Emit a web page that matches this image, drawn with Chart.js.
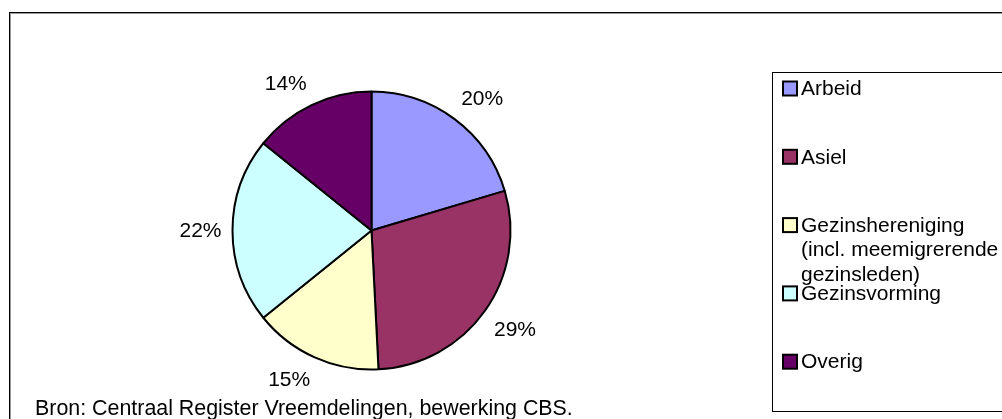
<!DOCTYPE html>
<html>
<head>
<meta charset="utf-8">
<script src="https://cdn.jsdelivr.net/npm/chart.js@4.4.1/dist/chart.umd.min.js"></script>
<style>
  body { margin: 0; background: #fff; }
  #wrap { width: 1002px; height: 419px; position: relative; }
</style>
</head>
<body>
<div id="wrap"><canvas id="chart"></canvas></div>
<script>
// shares per migration motive (percent)
const categories = ['Arbeid', 'Asiel', ['Gezinshereniging', '(incl. meemigrerende', 'gezinsleden)'], 'Gezinsvorming', 'Overig'];
const shares = [20.4, 28.8, 15.0, 21.6, 14.2];
const sliceColors = ['#9999FF', '#993366', '#FFFFCC', '#CCFFFF', '#660066'];
const sourceNote = 'Bron: Centraal Register Vreemdelingen, bewerking CBS.';

const FONT = '21px "Liberation Sans", Arial, sans-serif';

// frame, legend box, percentage labels and source line
const decorations = {
    id: 'decorations',
    beforeDraw(chart) {
        const ctx = chart.ctx;
        ctx.save();
        ctx.fillStyle = '#fff';
        ctx.fillRect(0, 0, chart.width, chart.height);
        ctx.strokeStyle = '#000';
        ctx.lineWidth = 1;
        ctx.strokeRect(9.5, 12.5, 1200, 600);
        ctx.strokeStyle = '#999';
        ctx.strokeRect(10.5, 13.5, 1200, 600);
        ctx.restore();
    },
    afterDraw(chart) {
        const ctx = chart.ctx;
        const meta = chart.getDatasetMeta(0);
        const total = shares.reduce((a, b) => a + b, 0);
        ctx.save();
        ctx.font = FONT;
        ctx.fillStyle = '#000';

        // percentage labels just outside each slice, box pushed away from the pie
        ctx.textAlign = 'center';
        ctx.textBaseline = 'middle';
        meta.data.forEach((arc, i) => {
            const text = Math.round(shares[i] / total * 100) + '%';
            const halfW = ctx.measureText(text).width / 2;
            const mid = (arc.startAngle + arc.endAngle) / 2;
            const dx = Math.cos(mid), dy = Math.sin(mid);
            const dist = arc.outerRadius + 11;
            const sx = Math.abs(dx) < 0.01 ? 0 : Math.sign(dx);
            const sy = Math.abs(dy) < 0.01 ? 0 : Math.sign(dy);
            const x = arc.x + dx * dist + sx * halfW;
            const y = arc.y + dy * dist + sy * 12;
            ctx.fillText(text, x, y + 1);
        });

        // legend box
        ctx.strokeStyle = '#000';
        ctx.lineWidth = 1;
        ctx.strokeRect(772.5, 72.5, 400, 339);
        ctx.textAlign = 'left';
        categories.forEach((label, i) => {
            const lines = Array.isArray(label) ? label : [label];
            const cy = 88.5 + i * 68.3;
            ctx.fillStyle = sliceColors[i];
            ctx.fillRect(783, cy - 7, 14, 14);
            ctx.lineWidth = 2;
            ctx.strokeStyle = '#000';
            ctx.strokeRect(783, cy - 7, 14, 14);
            ctx.fillStyle = '#000';
            lines.forEach((line, j) => {
                ctx.fillText(line, 801, cy + 1 + j * 24.5);
            });
        });

        // source
        ctx.font = '21.4px "Liberation Sans", Arial, sans-serif';
        ctx.textBaseline = 'alphabetic';
        ctx.fillText(sourceNote, 35, 415);
        ctx.restore();
    }
};

new Chart(document.getElementById('chart'), {
    type: 'pie',
    data: {
        labels: categories,
        datasets: [{
            data: shares,
            backgroundColor: sliceColors,
            borderColor: '#000',
            borderWidth: 2,
            radius: 139,
        }],
    },
    options: {
        responsive: true,
        maintainAspectRatio: false,
        animation: false,
        layout: {
            padding: { left: 221.5, right: 480.5, top: 80.5, bottom: 38.5 },
        },
        plugins: {
            legend: { display: false },
            tooltip: { enabled: false },
        },
    },
    plugins: [decorations],
});
</script>
</body>
</html>
